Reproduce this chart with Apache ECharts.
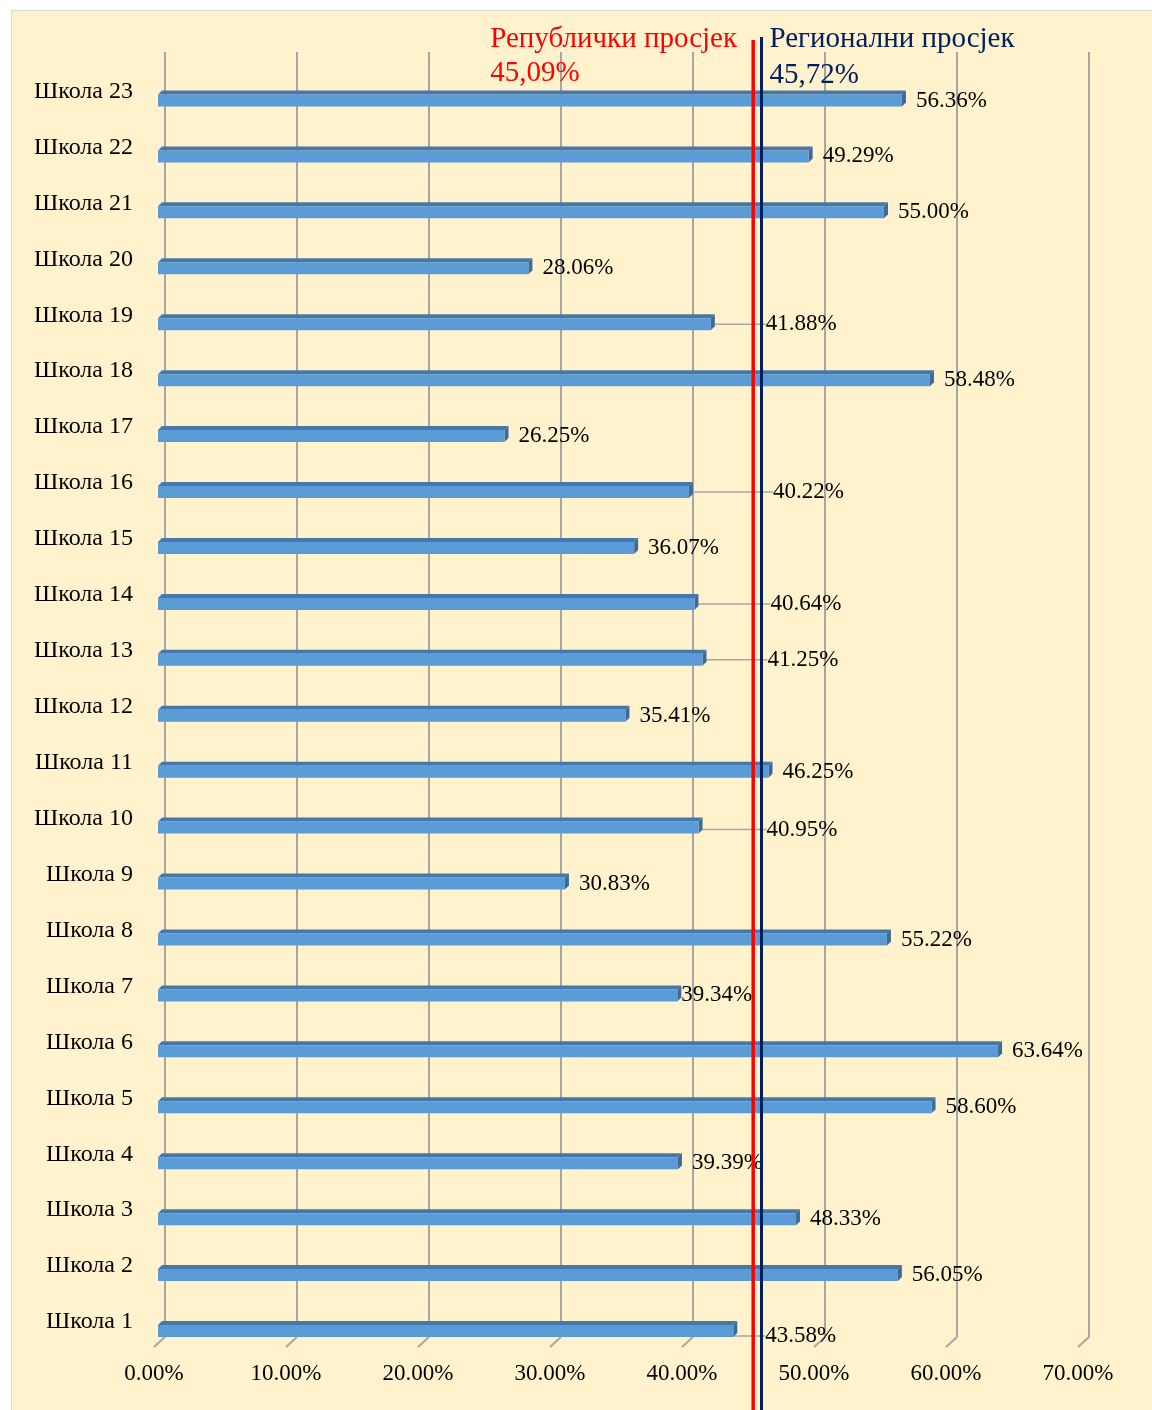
<!DOCTYPE html>
<html>
<head>
<meta charset="utf-8">
<script src="https://cdn.jsdelivr.net/npm/echarts@6.0.0/dist/echarts.min.js"></script>
<style>
    html, body { margin: 0; padding: 0; background: #ffffff; }
    #frame {
        position: absolute; left: 11px; top: 10px; width: 1145px; height: 1404px;
        background: #FFF2CC; border: 1px solid #D9D9D9;
    }
    #chart { position: absolute; left: 0; top: 0; width: 1152px; height: 1410px; }
</style>
</head>
<body>
<div id="frame"></div>
<div id="chart"></div>
<script>
// school names, bottom to top
const categories = [
    "Школа 1", "Школа 2", "Школа 3", "Школа 4", "Школа 5", "Школа 6", "Школа 7", "Школа 8",
    "Школа 9", "Школа 10", "Школа 11", "Школа 12", "Школа 13", "Школа 14", "Школа 15", "Школа 16",
    "Школа 17", "Школа 18", "Школа 19", "Школа 20", "Школа 21", "Школа 22", "Школа 23"
];
// percent per school
const values = [
    43.58, 56.05, 48.33, 39.39, 58.60, 63.64, 39.34, 55.22,
    30.83, 40.95, 46.25, 35.41, 41.25, 40.64, 36.07, 40.22,
    26.25, 58.48, 41.88, 28.06, 55.00, 49.29, 56.36
];
const xTicks = [0, 10, 20, 30, 40, 50, 60, 70];
const avgNames = ["Републички просјек", "Регионални просјек"];
const avgValues = [45.09, 45.72];

document.addEventListener("DOMContentLoaded", () => {
    const chart = echarts.init(document.getElementById("chart"));
    const serif = "'Liberation Serif', 'Times New Roman', serif";

    // labels Excel moved off the average lines (dx, dy in px)
    const labelNudge = {
        "Школа 19": [41, 0],
        "Школа 16": [70, 0],
        "Школа 14": [62, 0],
        "Школа 13": [51, 0],
        "Школа 10": [54, 2],
        "Школа 7": [-10, 0],
        "Школа 1": [18, 5]
    };

    const barData = values.map((v, i) => {
        const moved = labelNudge[categories[i]];
        return moved && moved[0] > 0
            ? { value: v, labelLine: { show: true } }
            : { value: v };
    });

    const avgColors = ["#FF0000", "#002060"];

    const option = {
        animation: false,
        backgroundColor: "transparent",
        textStyle: { fontFamily: serif },
        grid: [
            // front plane (bars)
            { left: 158, right: 70, top: 72.5, bottom: 51 },
            // back wall (gridlines)
            { left: 165, right: 63, top: 52, bottom: 73 }
        ],
        xAxis: [
            {
                gridIndex: 0, type: "value", min: 0, max: 70, interval: 10,
                show: false
            },
            {
                gridIndex: 1, type: "value", min: 0, max: 70, interval: 10,
                axisLine: { show: false },
                axisTick: { show: false },
                splitLine: { show: true, lineStyle: { color: "#A6A6A6", width: 2 } },
                axisLabel: {
                    margin: 25,
                    color: "#000",
                    fontFamily: serif,
                    fontSize: 23,
                    lineHeight: 23,
                    padding: [0, 22, 0, 0],
                    formatter: v => v.toFixed(2) + "%"
                }
            }
        ],
        yAxis: [
            {
                gridIndex: 0, type: "category", data: categories,
                axisLine: { show: false },
                axisTick: { show: false },
                axisLabel: {
                    margin: 25,
                    color: "#000",
                    fontFamily: serif,
                    fontSize: 24,
                    lineHeight: 18,
                    verticalAlign: "bottom"
                }
            },
            { gridIndex: 1, type: "value", min: 0, max: 1, show: false }
        ],
        series: [
            {
                // slanted floor feet of the gridlines
                type: "custom",
                xAxisIndex: 1, yAxisIndex: 1,
                clip: false, silent: true, z: 1,
                data: xTicks.map(t => [t, 0]),
                renderItem: (params, api) => {
                    const p = api.coord([api.value(0), 0]);
                    return {
                        type: "line",
                        shape: { x1: p[0], y1: p[1], x2: p[0] - 11, y2: p[1] + 10 },
                        style: { stroke: "#A6A6A6", lineWidth: 2 }
                    };
                }
            },
            {
                type: "bar",
                xAxisIndex: 0, yAxisIndex: 0,
                barWidth: 12,
                z: 2,
                data: barData,
                itemStyle: { color: "#5B9BD5" },
                label: {
                    show: true,
                    position: "right",
                    distance: 14,
                    offset: [0, 2],
                    color: "#000",
                    fontFamily: serif,
                    fontSize: 23,
                    formatter: p => p.value.toFixed(2) + "%"
                },
                labelLine: { lineStyle: { color: "#A6A6A6", width: 1.5 } },
                labelLayout: params => {
                    const moved = labelNudge[categories[params.dataIndex]];
                    return moved ? { dx: moved[0], dy: moved[1] } : {};
                }
            },
            {
                // top and end faces for the 3D look
                type: "custom",
                xAxisIndex: 0, yAxisIndex: 0,
                clip: false, silent: true, z: 2,
                data: values.map((v, i) => [v, i]),
                renderItem: (params, api) => {
                    const a = api.coord([0, api.value(1)]);
                    const b = api.coord([api.value(0), api.value(1)]);
                    const h = 6, d = 4, y = a[1];
                    return {
                        type: "group",
                        children: [
                            {
                                type: "polygon",
                                shape: { points: [[a[0], y - h], [b[0], y - h], [b[0] + d, y - h - d], [a[0] + d, y - h - d]] },
                                style: { fill: "#4677A8" }
                            },
                            {
                                type: "polygon",
                                shape: { points: [[b[0], y - h], [b[0] + d, y - h - d], [b[0] + d, y + h - d], [b[0], y + h]] },
                                style: { fill: "#3E6B96" }
                            }
                        ]
                    };
                }
            },
            {
                // republic and regional averages
                type: "custom",
                xAxisIndex: 0, yAxisIndex: 0,
                clip: false, silent: true, z: 3,
                data: avgValues.map((v, i) => [v, i]),
                renderItem: (params, api) => {
                    const i = api.value(1);
                    const v = api.value(0);
                    const x = api.coord([v, 0])[0];
                    const color = avgColors[i];
                    const first = i === 0;
                    const tx = first ? x - 263 : x + 8;
                    const txt = (s, ty) => ({
                        type: "text",
                        style: {
                            text: s, x: tx, y: ty,
                            fill: color, font: "29px " + serif,
                            textAlign: "left", textVerticalAlign: "middle"
                        }
                    });
                    return {
                        type: "group",
                        children: [
                            {
                                type: "line",
                                shape: { x1: x, y1: first ? 40 : 37, x2: x, y2: api.getHeight() },
                                style: { stroke: color, lineWidth: first ? 3.5 : 3 }
                            },
                            txt(avgNames[i], 39),
                            txt(v.toFixed(2).replace(".", ",") + "%", first ? 73 : 75)
                        ]
                    };
                }
            }
        ]
    };

    chart.setOption(option);
    window.addEventListener("resize", () => chart.resize());
});
</script>
</body>
</html>
